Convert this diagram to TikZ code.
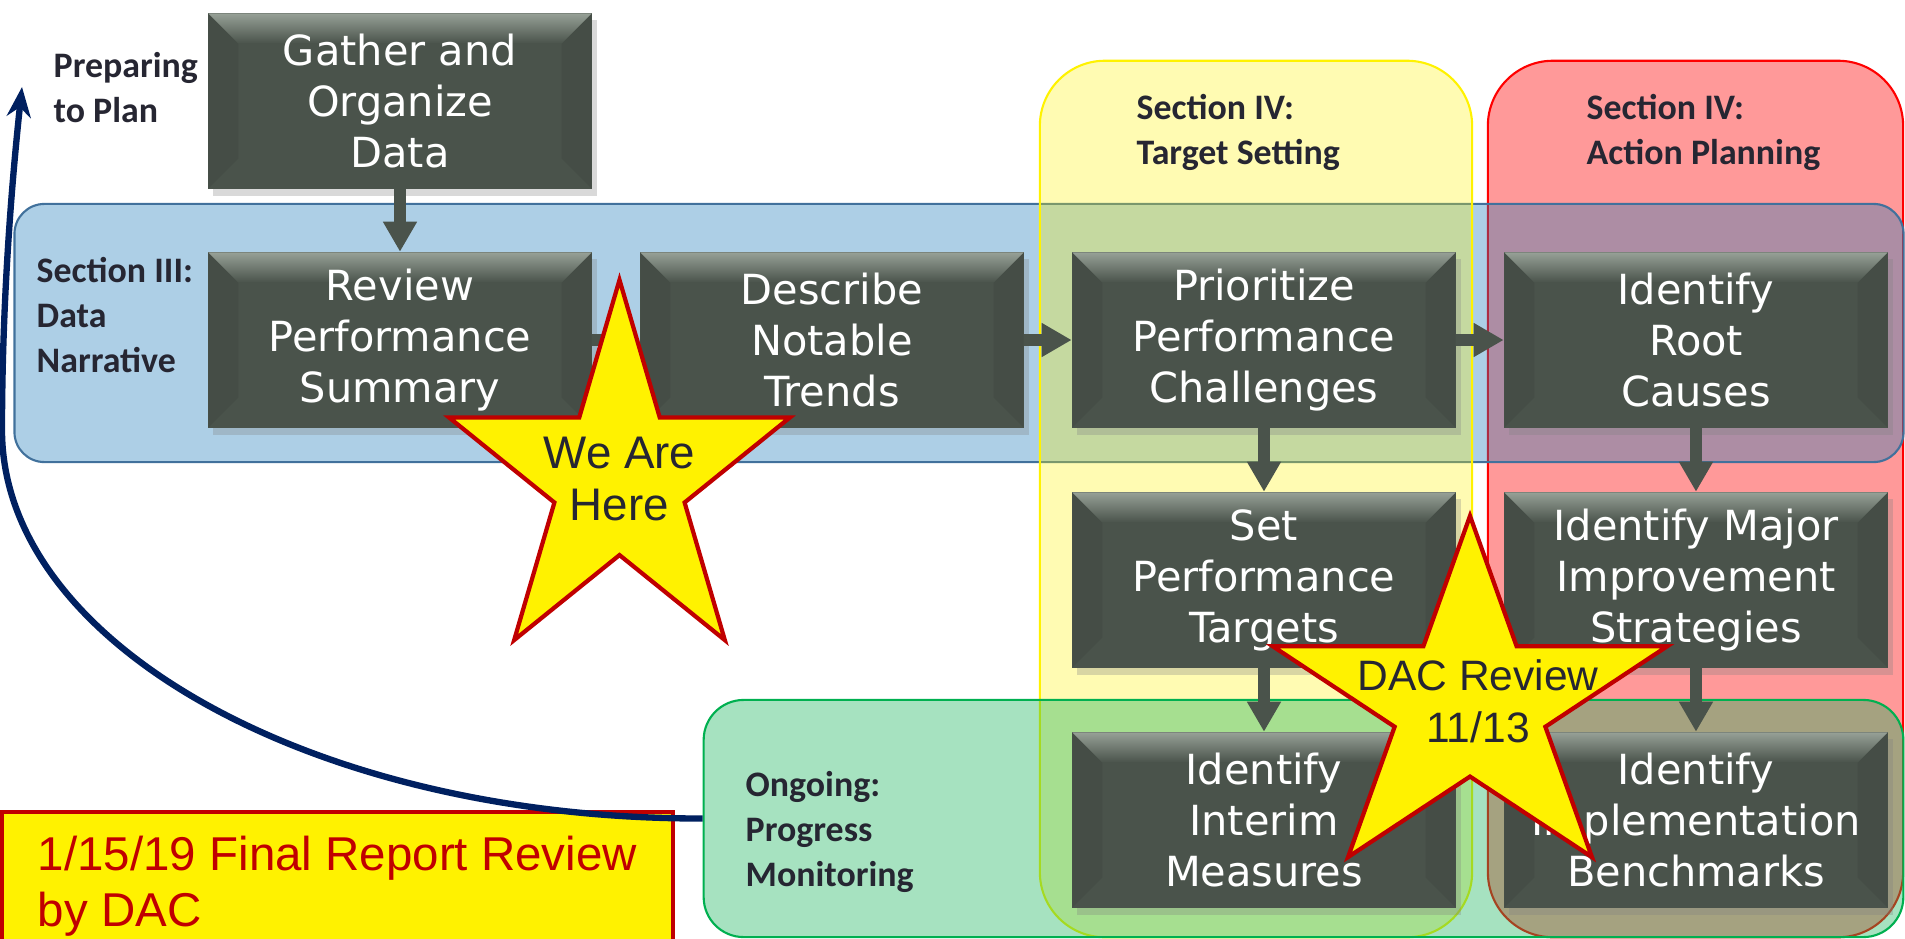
\documentclass[tikz,border=0pt]{standalone}
\usepackage{fontspec}
\usepackage{tikz}
\usetikzlibrary{arrows.meta,shapes.geometric,shadows}

\newfontfamily\boxfont{DejaVu Sans}
\newfontfamily\labelfont{Carlito}
\newfontfamily\starfont{Liberation Sans}

\definecolor{boxgray}{RGB}{74,83,75}
\definecolor{bevtop}{RGB}{150,160,150}
\definecolor{bevside}{RGB}{69,77,70}
\definecolor{labelink}{RGB}{38,38,50}
\definecolor{bandblue}{RGB}{28,122,186}
\definecolor{bandblueline}{RGB}{65,113,156}
\definecolor{colred}{RGB}{255,153,153}
\definecolor{bandgreen}{RGB}{21,179,89}
\definecolor{bandgreenline}{RGB}{0,176,80}
\definecolor{starred}{RGB}{192,0,0}
\definecolor{curvenavy}{RGB}{0,32,96}

\begin{document}
\begin{tikzpicture}
[x=0.01cm,y=-0.01cm,
 band/.style={rectangle,rounded corners=#1,inner sep=0pt,line width=0.6pt},
 stepbox/.style={rectangle,fill=boxgray,text=white,align=center,inner sep=0pt,
   minimum width=3.83cm,minimum height=1.75cm,
   font=\boxfont\fontsize{11.8pt}{14.5pt}\selectfont,
   drop shadow={shadow xshift=0.05cm,shadow yshift=-0.07cm,opacity=0.3},
   path picture={
     \fill[bevside] (path picture bounding box.north west) -- (path picture bounding box.south west)
       -- ([shift={(0.3cm,0.3cm)}]path picture bounding box.south west)
       -- ([shift={(0.3cm,-0.3cm)}]path picture bounding box.north west) -- cycle;
     \fill[bevside] (path picture bounding box.north east) -- (path picture bounding box.south east)
       -- ([shift={(-0.3cm,0.3cm)}]path picture bounding box.south east)
       -- ([shift={(-0.3cm,-0.3cm)}]path picture bounding box.north east) -- cycle;
     \shade[top color=bevtop,bottom color=boxgray] (path picture bounding box.north west)
       -- (path picture bounding box.north east)
       -- ([shift={(-0.3cm,-0.3cm)}]path picture bounding box.north east)
       -- ([shift={(0.3cm,-0.3cm)}]path picture bounding box.north west) -- cycle;
   }},
 flowarrow/.style={draw=boxgray,line width=3.4pt,-{Triangle[width=0.32cm,length=0.3cm]}},
 lbl/.style={font=\labelfont\bfseries\fontsize{10.2pt}{12.8pt}\selectfont,text=labelink,
   align=left,anchor=west,inner sep=0pt},
 sticker/.style={star,star points=5,star point ratio=2.618,fill=yellow,draw=starred,
   line width=1.2pt,inner sep=0pt,minimum size=#1,transform shape},
 startext/.style={font=\starfont\fontsize{#1}{14.7pt}\selectfont,text=labelink,align=center,inner sep=0pt},
 loopback/.style={draw=curvenavy,line width=1.8pt,-{Stealth[length=0.3cm,width=0.24cm]}}]

  \useasboundingbox (0,0) rectangle (1905,939);
  \clip (0,0) rectangle (1905,939);

  \node[band=0.65cm,fill=colred,draw=red,minimum width=4.15cm,minimum height=8.76cm] (actcol) at (1695.5,499) {};
  \node[band=0.3cm,fill=bandblue,fill opacity=0.36,draw=bandblueline,minimum width=18.88cm,minimum height=2.58cm] (narband) at (959,333) {};
  \node[band=0.65cm,fill=yellow,fill opacity=0.3,draw=yellow,minimum width=4.32cm,minimum height=8.76cm] (tgtcol) at (1256,499) {};
  \node[band=0.4cm,fill=bandgreen,fill opacity=0.38,draw=bandgreenline,minimum width=11.99cm,minimum height=2.37cm] (monband) at (1303.5,818.5) {};

  \node[lbl] (prep)  at (53,88)   {Preparing\\to Plan};
  \node[lbl] (sec3)  at (36,315)  {Section III:\\Data\\Narrative};
  \node[lbl] (sec4t) at (1136,132) {Section IV:\\Target Setting};
  \node[lbl] (sec4a) at (1586,132) {Section IV:\\Action Planning};
  \node[lbl] (ongo)  at (745,832) {Ongoing:\\Progress\\Monitoring};

  \node[stepbox] (gather)  at (400,101)  {Gather and\\Organize\\Data};
  \node[stepbox] (review)  at (400,340)  {Review\\Performance\\Summary};
  \node[stepbox] (trends)  at (832,340)  {Describe\\Notable\\Trends};
  \node[stepbox] (prior)   at (1264,340) {Prioritize\\Performance\\Challenges};
  \node[stepbox] (root)    at (1696,340) {Identify\\Root\\Causes};
  \node[stepbox] (targets) at (1264,580) {Set\\Performance\\Targets};
  \node[stepbox] (strat)   at (1696,580) {Identify Major\\Improvement\\Strategies};
  \node[stepbox] (interim) at (1264,820) {Identify\\Interim\\Measures};
  \node[stepbox] (bench)   at (1696,820) {Identify\\Implementation\\Benchmarks};

  \foreach \from/\to in {gather/review,review/trends,trends/prior,prior/root,
                         prior/targets,root/strat,targets/interim,strat/bench}
    \draw[flowarrow] (\from) -- (\to);

  \begin{scope}[shift={(619.5,479)},xscale=0.9]
    \node[sticker=3.98cm] (here) at (0,0) {};
  \end{scope}
  \node[startext=13pt] (heretxt) at (here.center) {We Are\\Here};

  \begin{scope}[shift={(1470,704.5)},xscale=1.1]
    \node[sticker=3.77cm] (dac) at (0,0) {};
  \end{scope}
  \node[startext=12.1pt] (dactxt) at (1478,701) {DAC Review\\11/13};

  \node[draw=starred,line width=1.2pt,fill=yellow,minimum width=6.71cm,minimum height=1.48cm,
        align=left,text=starred,font=\starfont\fontsize{13.5pt}{15.9pt}\selectfont]
        (final) at (337.5,886) {1/15/19 Final Report Review\\by DAC};

  \coordinate (plan) at (22,87);
  \draw[loopback] (monband.west) .. controls (316,819) and (2,645) .. (2,430)
                                 .. controls (2,300) and (12,180) .. (plan);

\end{tikzpicture}
\end{document}
